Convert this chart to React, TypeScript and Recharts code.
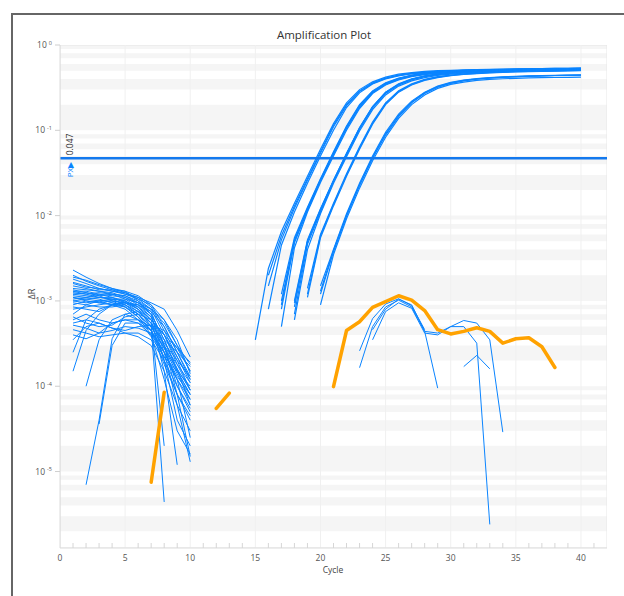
import React from "react";
import {
  LineChart,
  Line,
  XAxis,
  YAxis,
  ReferenceArea,
  ReferenceLine,
} from "recharts";

// ΔR values per well (log axis). null = no value (≤ 0 after baseline)
const cycles = Array.from({ length: 42 }, (_, i) => i); // tick positions 0..41
const decadeTicks = [1, 0.1, 0.01, 0.001, 0.0001, 0.00001];
const majorCycles = [5, 10, 15, 20, 25, 30, 35, 40];
const threshold = 0.047;
const Y_MIN = 1.27e-6;

// baseline region, cycles 1..10
const baselineWells: (number | null)[][] = [
  [2.3e-3, 1.9e-3, 1.6e-3, 1.4e-3, 1.25e-3, 1.1e-3, 8.5e-4, 4.5e-4, 2.2e-4, 1.2e-4],
  [2.0e-3, 1.7e-3, 1.5e-3, 1.35e-3, 1.2e-3, 1.05e-3, 9e-4, 6e-4, 3e-4, 1.5e-4],
  [1.9e-3, 1.75e-3, 1.55e-3, 1.4e-3, 1.3e-3, 1.15e-3, 9e-4, 5e-4, 2.5e-4, 1.3e-4],
  [1.8e-3, 1.6e-3, 1.4e-3, 1.3e-3, 1.2e-3, 1.1e-3, 9.5e-4, 8e-4, 4.5e-4, 2.2e-4],
  [1.65e-3, 1.5e-3, 1.35e-3, 1.35e-3, 1.3e-3, 1.0e-3, 7e-4, 3.5e-4, 1.5e-4, 8e-5],
  [1.6e-3, 1.45e-3, 1.4e-3, 1.3e-3, 1.25e-3, 1.05e-3, 8e-4, 4e-4, 1.8e-4, 9e-5],
  [1.5e-3, 1.4e-3, 1.3e-3, 1.2e-3, 1.15e-3, 1.0e-3, 8e-4, 5.5e-4, 3e-4, 1.8e-4],
  [1.4e-3, 1.35e-3, 1.3e-3, 1.25e-3, 1.1e-3, 9.5e-4, 7.5e-4, 3e-4, 1e-4, 5e-5],
  [1.35e-3, 1.25e-3, 1.15e-3, 1.2e-3, 1.15e-3, 9.5e-4, 7e-4, 2e-4, 4e-5, 2e-5],
  [1.3e-3, 1.3e-3, 1.2e-3, 1.15e-3, 1.1e-3, 9e-4, 6.5e-4, 2.5e-4, 6e-5, 1.3e-5],
  [1.3e-3, 1.2e-3, 1.1e-3, 1.05e-3, 1.05e-3, 9.5e-4, 8e-4, 6e-4, 3.5e-4, 1.4e-4],
  [1.25e-3, 1.2e-3, 1.25e-3, 1.2e-3, 1.05e-3, 8.5e-4, 6e-4, 1.5e-4, 1.2e-5, null],
  [1.2e-3, 1.15e-3, 1.1e-3, 1.1e-3, 1.0e-3, 8e-4, 5e-4, 4.4e-6, null, null],
  [1.2e-3, 1.25e-3, 1.15e-3, 1.0e-3, 9.5e-4, 9e-4, 7e-4, 3.5e-4, 1.6e-4, 6e-5],
  [1.15e-3, 1.1e-3, 1.2e-3, 1.1e-3, 9.5e-4, 7.5e-4, 5.5e-4, 2e-5, null, null],
  [1.1e-3, 1.05e-3, 1.0e-3, 1.05e-3, 9e-4, 7e-4, 4.5e-4, 1.8e-4, 8e-5, 4e-5],
  [1.1e-3, 1.0e-3, 9.5e-4, 1.0e-3, 9.5e-4, 8.5e-4, 6.5e-4, 3e-4, 8e-5, 1.5e-5],
  [1.05e-3, 1.1e-3, 1.05e-3, 9.5e-4, 8.5e-4, 6.5e-4, 4e-4, 1.2e-4, 3e-5, 1.6e-5],
  [1.0e-3, 9.5e-4, 1.0e-3, 9e-4, 8e-4, 6e-4, 3.8e-4, 2.2e-4, 1.5e-4, 1e-4],
  [1.0e-3, 1.05e-3, 1.1e-3, 1.05e-3, 1.0e-3, 8.5e-4, 6e-4, 4e-4, 2e-4, 9e-5],
  [9.5e-4, 9e-4, 8.5e-4, 8.5e-4, 9e-4, 7e-4, 5e-4, 3.5e-4, 2.5e-4, 1.7e-4],
  [9e-4, 1.0e-3, 9.5e-4, 9e-4, 9.5e-4, 9e-4, 7.5e-4, 5e-4, 2.5e-4, 1.2e-4],
  [8.5e-4, 8e-4, 7.5e-4, 9e-4, 1.0e-3, 8e-4, 6e-4, 4e-4, 2.8e-4, 1.9e-4],
  [8e-4, 8.5e-4, 9e-4, 9.5e-4, 9e-4, 7.5e-4, 5.5e-4, 3.2e-4, 2e-4, 1.3e-4],
  [7e-4, 9e-4, 1.0e-3, 1.0e-3, 8.5e-4, 6.5e-4, 4.5e-4, 2.5e-4, 1.2e-4, 6e-5],
  [6.5e-4, 5.5e-4, 5e-4, 5.2e-4, 6.5e-4, 7e-4, 6e-4, 4e-4, 2.2e-4, 1.1e-4],
  [6e-4, 7e-4, 6e-4, 5.5e-4, 6e-4, 6e-4, 5e-4, 2.8e-4, 1.4e-4, 7e-5],
  [5.5e-4, 6e-4, 5.5e-4, 4.8e-4, 4.5e-4, 5e-4, 5.2e-4, 4.5e-4, 2.8e-4, 1.5e-4],
  [5.2e-4, 4.8e-4, 4.2e-4, 4.5e-4, 5e-4, 4.8e-4, 4.2e-4, 3e-4, 1.8e-4, 1.1e-4],
  [4.6e-4, 4.2e-4, 3.8e-4, 4e-4, 4.2e-4, 4.2e-4, 3.5e-4, 2e-4, 1e-4, 5.5e-5],
  [4e-4, 3.6e-4, 4.2e-4, 5.5e-4, 6e-4, 5.5e-4, 4.5e-4, 2.5e-4, 1.2e-4, 2.5e-5],
  [3.5e-4, 5e-4, 5.5e-4, 4.8e-4, 4.2e-4, 3.8e-4, 3e-4, 1.5e-4, 6e-5, 3e-5],
  [2.5e-4, 6e-4, 8e-4, 9e-4, 8.5e-4, 7e-4, 5e-4, 2.8e-4, 1.6e-4, 9e-5],
  [1.5e-4, 4.5e-4, 7e-4, 9e-4, 9.5e-4, 8e-4, 5.5e-4, 2e-4, 8e-5, 4.5e-5],
  [null, 7e-6, 4e-5, 3.6e-4, 7e-4, 7.5e-4, 5.5e-4, 3e-4, 1.5e-4, 8e-5],
  [null, 1e-4, 3.5e-4, 6e-4, 7e-4, 6e-4, 4.5e-4, 2.2e-4, 1.2e-4, 7e-5],
  [null, null, 3.6e-5, 3e-4, 5.5e-4, 5.5e-4, 4e-4, 2.5e-4, 1.3e-4, 8e-5],
];

// amplified wells, from first positive cycle to 40
const ampWells = [
  { start: 15, values: [3.5e-4, 2.4e-3, 6.5e-3, 0.014, 0.029, 0.06, 0.12, 0.21, 0.3, 0.37, 0.42, 0.455, 0.475, 0.49, 0.5, 0.505, 0.51, 0.514, 0.518, 0.521, 0.524, 0.527, 0.529, 0.531, 0.533, 0.535] },
  { start: 16, values: [2.0e-3, 5.8e-3, 0.013, 0.027, 0.056, 0.115, 0.2, 0.29, 0.36, 0.41, 0.445, 0.465, 0.48, 0.49, 0.497, 0.503, 0.508, 0.512, 0.515, 0.518, 0.521, 0.523, 0.525, 0.527, 0.529] },
  { start: 16, values: [1.5e-3, 5.2e-3, 0.0122, 0.026, 0.054, 0.11, 0.195, 0.285, 0.355, 0.405, 0.44, 0.462, 0.478, 0.488, 0.495, 0.5, 0.505, 0.509, 0.512, 0.515, 0.518, 0.52, 0.522, 0.524, 0.526] },
  { start: 16, values: [8e-4, 4.5e-3, 0.011, 0.024, 0.05, 0.1, 0.185, 0.275, 0.35, 0.4, 0.435, 0.46, 0.475, 0.485, 0.493, 0.5, 0.505, 0.509, 0.513, 0.516, 0.519, 0.522, 0.524, 0.526, 0.528] },
  { start: 17, values: [1.2e-3, 5.5e-3, 0.0125, 0.027, 0.056, 0.112, 0.2, 0.29, 0.36, 0.41, 0.445, 0.47, 0.485, 0.495, 0.503, 0.51, 0.515, 0.519, 0.523, 0.526, 0.529, 0.531, 0.534, 0.536] },
  { start: 17, values: [1.0e-3, 5.2e-3, 0.0121, 0.0265, 0.0545, 0.11, 0.195, 0.285, 0.355, 0.405, 0.44, 0.465, 0.48, 0.49, 0.498, 0.505, 0.51, 0.514, 0.518, 0.521, 0.524, 0.527, 0.53, 0.532] },
  { start: 17, values: [9e-4, 5e-3, 0.0118, 0.026, 0.053, 0.107, 0.19, 0.28, 0.35, 0.4, 0.435, 0.46, 0.475, 0.486, 0.494, 0.5, 0.505, 0.509, 0.513, 0.516, 0.519, 0.522, 0.524, 0.526] },
  { start: 17, values: [8e-4, 4.8e-3, 0.0115, 0.0255, 0.052, 0.105, 0.185, 0.275, 0.345, 0.395, 0.43, 0.455, 0.471, 0.482, 0.49, 0.497, 0.502, 0.507, 0.511, 0.514, 0.517, 0.52, 0.522, 0.524] },
  { start: 17, values: [5e-4, 4.2e-3, 0.011, 0.0245, 0.05, 0.1, 0.18, 0.27, 0.34, 0.39, 0.425, 0.45, 0.467, 0.479, 0.488, 0.495, 0.5, 0.505, 0.509, 0.512, 0.515, 0.518, 0.52, 0.522] },
  { start: 18, values: [1.0e-3, 5.2e-3, 0.012, 0.026, 0.054, 0.108, 0.19, 0.28, 0.35, 0.4, 0.435, 0.458, 0.473, 0.484, 0.492, 0.498, 0.503, 0.507, 0.511, 0.514, 0.517, 0.52, 0.522] },
  { start: 18, values: [9.5e-4, 5e-3, 0.0118, 0.0258, 0.053, 0.106, 0.188, 0.277, 0.347, 0.397, 0.432, 0.455, 0.47, 0.481, 0.489, 0.496, 0.501, 0.505, 0.509, 0.512, 0.515, 0.518, 0.52] },
  { start: 18, values: [8.5e-4, 4.9e-3, 0.0115, 0.0255, 0.0525, 0.105, 0.187, 0.275, 0.345, 0.395, 0.43, 0.453, 0.468, 0.48, 0.488, 0.494, 0.5, 0.504, 0.508, 0.511, 0.514, 0.516, 0.518] },
  { start: 18, values: [7e-4, 4.6e-3, 0.011, 0.025, 0.051, 0.103, 0.183, 0.27, 0.34, 0.39, 0.425, 0.448, 0.464, 0.476, 0.484, 0.491, 0.496, 0.5, 0.504, 0.507, 0.51, 0.512, 0.515] },
  { start: 18, values: [6e-4, 4e-3, 0.0105, 0.024, 0.049, 0.098, 0.175, 0.26, 0.33, 0.38, 0.415, 0.44, 0.456, 0.468, 0.477, 0.484, 0.49, 0.494, 0.498, 0.501, 0.504, 0.506, 0.508] },
  { start: 19, values: [1.4e-3, 6e-3, 0.014, 0.031, 0.064, 0.125, 0.21, 0.29, 0.35, 0.395, 0.425, 0.445, 0.46, 0.471, 0.479, 0.486, 0.491, 0.495, 0.499, 0.502, 0.505, 0.507] },
  { start: 19, values: [1.2e-3, 5.8e-3, 0.0135, 0.03, 0.062, 0.121, 0.205, 0.285, 0.345, 0.39, 0.42, 0.44, 0.455, 0.466, 0.475, 0.482, 0.487, 0.491, 0.495, 0.498, 0.501, 0.503] },
  { start: 19, values: [1.1e-3, 5.5e-3, 0.013, 0.029, 0.06, 0.118, 0.2, 0.28, 0.34, 0.385, 0.415, 0.436, 0.451, 0.462, 0.471, 0.478, 0.483, 0.488, 0.492, 0.495, 0.498, 0.5] },
  { start: 20, values: [1.5e-3, 4e-3, 0.0105, 0.024, 0.05, 0.095, 0.155, 0.22, 0.28, 0.33, 0.365, 0.388, 0.404, 0.415, 0.423, 0.429, 0.434, 0.438, 0.441, 0.444, 0.446] },
  { start: 20, values: [1.3e-3, 3.9e-3, 0.0101, 0.023, 0.048, 0.091, 0.15, 0.215, 0.275, 0.325, 0.36, 0.384, 0.4, 0.412, 0.42, 0.426, 0.431, 0.435, 0.439, 0.442, 0.444] },
  { start: 20, values: [1.2e-3, 3.8e-3, 0.0098, 0.0225, 0.047, 0.088, 0.145, 0.21, 0.27, 0.32, 0.355, 0.38, 0.397, 0.409, 0.418, 0.424, 0.429, 0.433, 0.437, 0.44, 0.442] },
  { start: 20, values: [9e-4, 3.5e-3, 0.0092, 0.021, 0.044, 0.083, 0.138, 0.2, 0.26, 0.31, 0.345, 0.368, 0.384, 0.395, 0.402, 0.407, 0.411, 0.414, 0.416, 0.418, 0.42] },
];

// non-amplified wells with late noise
const lateNoise = [
  { start: 23, values: [1.65e-4, 5e-4, 8.5e-4, 1.02e-3, 8.5e-4, 4.4e-4, 9.5e-5] },
  { start: 23, values: [2.6e-4, 6.2e-4, 9.2e-4, 1.06e-3, 8.8e-4, 4.6e-4] },
  { start: 24, values: [3.5e-4, 7.5e-4, 9.5e-4, 8.2e-4, 4.2e-4, 4e-4, 5e-4, 5e-4, 3.2e-4, 2.4e-6] },
  { start: 24, values: [4.6e-4, 8e-4, 1.05e-3, 9e-4, 4.4e-4, 4.2e-4, 5e-4, 5.9e-4, 5.5e-4, 3.5e-4, 2.9e-5] },
  { start: 31, values: [1.7e-4, 2.3e-4, 1.6e-4] },
];

// NTC well (orange)
const ntcWell = {
  start: 7,
  values: [
    7.5e-6, 8.5e-5, null, null, null, 5.5e-5, 8.3e-5, null, null, null, null, null, null, null,
    9.9e-5, 4.5e-4, 5.7e-4, 8.4e-4, 9.8e-4, 1.15e-3, 1.02e-3, 7.7e-4, 4.6e-4, 4.1e-4, 4.4e-4,
    4.85e-4, 4.4e-4, 3.2e-4, 3.6e-4, 3.7e-4, 2.9e-4, 1.66e-4,
  ],
};

const BLUE = "#0a84ff";
const ORANGE = "#ffa200";
const FONT = "'Open Sans', 'Noto Sans', sans-serif";

const toRows = (start: number, values: (number | null)[]) =>
  values.map((v, i) => ({ cycle: start + i, dr: v }));

// alternating shaded bands between the log minor grid lines
const minorValues: number[] = [];
for (let e = 0; e >= -6; e--) {
  for (let m = 10; m >= 1; m--) {
    if (m === 10 && e !== 0) continue;
    minorValues.push(m * Math.pow(10, e - 1));
  }
}
const bands = minorValues
  .slice(0, -1)
  .map((v, i) => ({ y1: minorValues[i + 1], y2: v, shaded: i % 2 === 0 }))
  .filter((b) => b.shaded);

const LogTick = (props: any) => {
  const { x, y, payload } = props;
  const exp = Math.round(Math.log10(payload.value));
  return (
    <text x={x} y={y} dy={3} textAnchor="end" fontSize={8.5} fill="#555" fontFamily={FONT}>
      10
      <tspan dx={2} dy={-3.5} fontSize={5.5}>
        {exp}
      </tspan>
    </text>
  );
};

const CycleTick = (props: any) => {
  const { x, y, payload } = props;
  const c = payload.value;
  return (
    <g>
      {c % 5 !== 0 && <line x1={x} x2={x} y1={y} y2={y - 5} stroke="#d6d6d6" />}
      {c % 5 === 0 && (
        <text x={x} y={y + 13} textAnchor="middle" fontSize={8.5} fill="#555" fontFamily={FONT}>
          {c}
        </text>
      )}
    </g>
  );
};

const ThresholdLabel = (props: any) => {
  const { viewBox } = props;
  const x = viewBox.x + 13;
  const y = viewBox.y;
  return (
    <g fontFamily={FONT}>
      <text transform={`translate(${x},${y - 3}) rotate(-90)`} fontSize={8.5} fill="#333">
        0.047
      </text>
      <text transform={`translate(${x},${y + 19}) rotate(-90)`} fontSize={8} fill={BLUE}>
        PX▶
      </text>
    </g>
  );
};

const YTitle = () => (
  <text transform="translate(35,294) rotate(-90)" textAnchor="middle" fontSize={9} fill="#444" fontFamily={FONT}>
    ΔR
  </text>
);

const XTitle = () => (
  <text x={333} y={573} textAnchor="middle" fontSize={8.5} fill="#444" fontFamily={FONT}>
    Cycle
  </text>
);

const seriesProps = {
  dataKey: "dr",
  stroke: BLUE,
  dot: false,
  activeDot: false,
  isAnimationActive: false,
};

export default function App() {
  return (
    <div style={{ position: "fixed", left: 0, top: 0, width: 624, height: 596, background: "#fff" }}>
      <div
        style={{
          position: "absolute",
          left: 11,
          top: 13,
          width: 613,
          height: 583,
          borderTop: "2px solid #666",
          borderLeft: "2px solid #666",
          boxSizing: "border-box",
        }}
      />
      <div
        style={{
          position: "absolute",
          left: 224,
          top: 27,
          width: 200,
          textAlign: "center",
          fontFamily: FONT,
          fontSize: 11.5,
          color: "#333",
          lineHeight: "16px",
        }}
      >
        Amplification Plot
      </div>
      <div style={{ position: "absolute", left: 0, top: 0 }}>
        <LineChart width={624} height={596} margin={{ top: 45, right: 17, left: 10, bottom: 28 }}>
          <XAxis
            type="number"
            dataKey="cycle"
            domain={[0, 42]}
            ticks={cycles}
            interval={0}
            tickLine={false}
            tickSize={0}
            tickMargin={0}
            height={20}
            stroke="#dcdcdc"
            tick={<CycleTick />}
            label={<XTitle />}
          />
          <YAxis
            type="number"
            scale="log"
            domain={[Y_MIN, 1]}
            allowDataOverflow
            ticks={decadeTicks}
            interval={0}
            width={50}
            tickSize={5}
            tickMargin={3}
            stroke="#dcdcdc"
            tickLine={{ stroke: "#cfcfcf" }}
            tick={<LogTick />}
            label={<YTitle />}
          />
          {bands.map((b, i) => (
            <ReferenceArea
              key={"band" + i}
              y1={b.y1}
              y2={b.y2}
              fill="#f5f5f5"
              fillOpacity={1}
              strokeWidth={0}
              ifOverflow="hidden"
            />
          ))}
          <ReferenceArea y1={Y_MIN} y2={1} fill="none" stroke="#e6e6e6" ifOverflow="hidden" />
          {majorCycles.map((c) => (
            <ReferenceLine key={"grid" + c} x={c} stroke="#f0f0f0" />
          ))}
          {baselineWells.map((w, i) => (
            <Line key={"base" + i} data={toRows(1, w)} strokeWidth={1} {...seriesProps} />
          ))}
          {ampWells.map((w, i) => (
            <Line key={"amp" + i} data={toRows(w.start, w.values)} strokeWidth={1.2} {...seriesProps} />
          ))}
          {lateNoise.map((w, i) => (
            <Line key={"late" + i} data={toRows(w.start, w.values)} strokeWidth={1} {...seriesProps} />
          ))}
          <Line
            data={toRows(ntcWell.start, ntcWell.values)}
            dataKey="dr"
            stroke={ORANGE}
            strokeWidth={3.5}
            strokeLinejoin="round"
            strokeLinecap="round"
            dot={false}
            activeDot={false}
            isAnimationActive={false}
          />
          <ReferenceLine y={threshold} stroke="#1479ee" strokeWidth={2.5} label={<ThresholdLabel />} />
        </LineChart>
      </div>
    </div>
  );
}
